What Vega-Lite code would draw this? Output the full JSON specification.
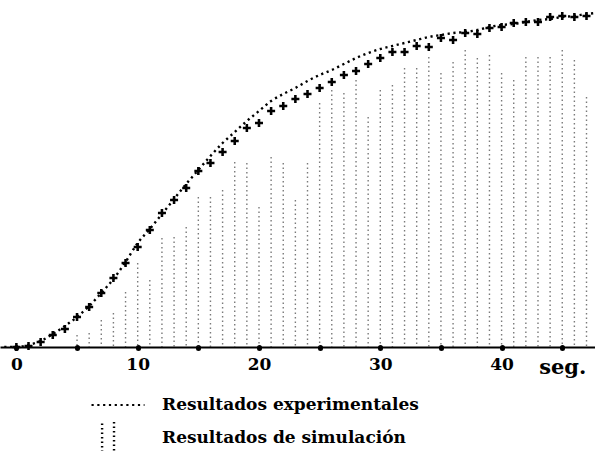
{
  "$schema": "https://vega.github.io/schema/vega-lite/v6.json",
  "width": 595,
  "height": 347,
  "autosize": {"type": "none"},
  "padding": {"left": 0, "top": 0, "right": 0, "bottom": 104},
  "background": "white",
  "config": {"view": {"stroke": null}, "font": "DejaVu Serif"},
  "layer": [
    {
      "data": {"values": [
        {"t": 5, "top": 12, "serie": "Resultados de simulación"},
        {"t": 6, "top": 14, "serie": "Resultados de simulación"},
        {"t": 7, "top": 27, "serie": "Resultados de simulación"},
        {"t": 8, "top": 34, "serie": "Resultados de simulación"},
        {"t": 9, "top": 55, "serie": "Resultados de simulación"},
        {"t": 10, "top": 84, "serie": "Resultados de simulación"},
        {"t": 11, "top": 67, "serie": "Resultados de simulación"},
        {"t": 12, "top": 109, "serie": "Resultados de simulación"},
        {"t": 13, "top": 110, "serie": "Resultados de simulación"},
        {"t": 14, "top": 120, "serie": "Resultados de simulación"},
        {"t": 15, "top": 150, "serie": "Resultados de simulación"},
        {"t": 16, "top": 150, "serie": "Resultados de simulación"},
        {"t": 17, "top": 157, "serie": "Resultados de simulación"},
        {"t": 18, "top": 185, "serie": "Resultados de simulación"},
        {"t": 19, "top": 184, "serie": "Resultados de simulación"},
        {"t": 20, "top": 140, "serie": "Resultados de simulación"},
        {"t": 21, "top": 190, "serie": "Resultados de simulación"},
        {"t": 22, "top": 184, "serie": "Resultados de simulación"},
        {"t": 23, "top": 147, "serie": "Resultados de simulación"},
        {"t": 24, "top": 184, "serie": "Resultados de simulación"},
        {"t": 25, "top": 244, "serie": "Resultados de simulación"},
        {"t": 26, "top": 257, "serie": "Resultados de simulación"},
        {"t": 27, "top": 254, "serie": "Resultados de simulación"},
        {"t": 28, "top": 267, "serie": "Resultados de simulación"},
        {"t": 29, "top": 230, "serie": "Resultados de simulación"},
        {"t": 30, "top": 257, "serie": "Resultados de simulación"},
        {"t": 31, "top": 262, "serie": "Resultados de simulación"},
        {"t": 32, "top": 279, "serie": "Resultados de simulación"},
        {"t": 33, "top": 279, "serie": "Resultados de simulación"},
        {"t": 34, "top": 290, "serie": "Resultados de simulación"},
        {"t": 35, "top": 274, "serie": "Resultados de simulación"},
        {"t": 36, "top": 285, "serie": "Resultados de simulación"},
        {"t": 37, "top": 297, "serie": "Resultados de simulación"},
        {"t": 38, "top": 289, "serie": "Resultados de simulación"},
        {"t": 39, "top": 292, "serie": "Resultados de simulación"},
        {"t": 40, "top": 274, "serie": "Resultados de simulación"},
        {"t": 41, "top": 267, "serie": "Resultados de simulación"},
        {"t": 42, "top": 290, "serie": "Resultados de simulación"},
        {"t": 43, "top": 290, "serie": "Resultados de simulación"},
        {"t": 44, "top": 290, "serie": "Resultados de simulación"},
        {"t": 45, "top": 297, "serie": "Resultados de simulación"},
        {"t": 46, "top": 287, "serie": "Resultados de simulación"},
        {"t": 47, "top": 250, "serie": "Resultados de simulación"}
      ]},
      "mark": {"type": "rule", "color": "#222222", "opacity": 0.6, "strokeWidth": 1.4},
      "encoding": {
        "x": {
          "field": "t", "type": "quantitative",
          "scale": {"domain": [-1.35, 47.7], "nice": false, "zero": false},
          "axis": {
            "title": null,
            "values": [0, 5, 10, 15, 20, 25, 30, 35, 40, 45],
            "labelExpr": "datum.value == 45 ? 'seg.' : (datum.value % 10 == 0 ? datum.label : '')",
            "grid": false,
            "domainColor": "black",
            "domainWidth": 2,
            "tickColor": "black",
            "tickWidth": 5,
            "tickSize": 1,
            "tickCap": "round",
            "labelFont": "DejaVu Serif",
            "labelFontWeight": "bold",
            "labelFontSize": {"condition": {"test": "datum.value == 45", "value": 21}, "value": 17},
            "labelColor": "black",
            "labelPadding": 8,
            "labelFlush": false,
            "labelOverlap": false
          }
        },
        "y": {"field": "top", "type": "quantitative", "scale": {"domain": [0, 347], "nice": false, "zero": true}, "axis": null},
        "y2": {"datum": 0},
        "strokeDash": {
          "field": "serie", "type": "nominal",
          "scale": {"range": [[1.5, 3]]},
          "legend": {
            "title": null,
            "orient": "none",
            "legendX": 90,
            "legendY": 410,
            "padding": 0,
            "symbolType": "M-0.6,-0.55V0.7M-0.15,-0.6V0.7",
            "symbolSize": 2809,
            "symbolStrokeWidth": 2.4,
            "symbolStrokeColor": "black",
            "symbolOpacity": 1,
            "labelFont": "DejaVu Serif",
            "labelFontWeight": "bold",
            "labelFontSize": 17,
            "labelColor": "black",
            "labelLimit": 400,
            "labelOffset": 16
          }
        }
      }
    },
    {
      "data": {"values": [
        {"t": -1, "v": 0, "serie": "Resultados experimentales"},
        {"t": 0, "v": 0, "serie": "Resultados experimentales"},
        {"t": 1, "v": 2, "serie": "Resultados experimentales"},
        {"t": 2, "v": 6, "serie": "Resultados experimentales"},
        {"t": 3, "v": 13, "serie": "Resultados experimentales"},
        {"t": 4, "v": 21, "serie": "Resultados experimentales"},
        {"t": 5, "v": 30, "serie": "Resultados experimentales"},
        {"t": 6, "v": 41, "serie": "Resultados experimentales"},
        {"t": 7, "v": 54, "serie": "Resultados experimentales"},
        {"t": 8, "v": 68, "serie": "Resultados experimentales"},
        {"t": 9, "v": 85, "serie": "Resultados experimentales"},
        {"t": 10, "v": 104, "serie": "Resultados experimentales"},
        {"t": 11, "v": 118, "serie": "Resultados experimentales"},
        {"t": 12, "v": 133, "serie": "Resultados experimentales"},
        {"t": 13, "v": 148, "serie": "Resultados experimentales"},
        {"t": 14, "v": 163, "serie": "Resultados experimentales"},
        {"t": 15, "v": 177, "serie": "Resultados experimentales"},
        {"t": 16, "v": 191, "serie": "Resultados experimentales"},
        {"t": 17, "v": 204, "serie": "Resultados experimentales"},
        {"t": 18, "v": 215, "serie": "Resultados experimentales"},
        {"t": 19, "v": 226, "serie": "Resultados experimentales"},
        {"t": 20, "v": 236, "serie": "Resultados experimentales"},
        {"t": 21, "v": 246, "serie": "Resultados experimentales"},
        {"t": 22, "v": 253, "serie": "Resultados experimentales"},
        {"t": 23, "v": 259, "serie": "Resultados experimentales"},
        {"t": 24, "v": 266, "serie": "Resultados experimentales"},
        {"t": 25, "v": 272, "serie": "Resultados experimentales"},
        {"t": 26, "v": 277, "serie": "Resultados experimentales"},
        {"t": 27, "v": 283, "serie": "Resultados experimentales"},
        {"t": 28, "v": 289, "serie": "Resultados experimentales"},
        {"t": 29, "v": 294, "serie": "Resultados experimentales"},
        {"t": 30, "v": 298, "serie": "Resultados experimentales"},
        {"t": 31, "v": 301, "serie": "Resultados experimentales"},
        {"t": 32, "v": 304, "serie": "Resultados experimentales"},
        {"t": 33, "v": 307, "serie": "Resultados experimentales"},
        {"t": 34, "v": 310, "serie": "Resultados experimentales"},
        {"t": 35, "v": 312, "serie": "Resultados experimentales"},
        {"t": 36, "v": 314, "serie": "Resultados experimentales"},
        {"t": 37, "v": 315, "serie": "Resultados experimentales"},
        {"t": 38, "v": 317, "serie": "Resultados experimentales"},
        {"t": 39, "v": 320, "serie": "Resultados experimentales"},
        {"t": 40, "v": 322, "serie": "Resultados experimentales"},
        {"t": 41, "v": 323, "serie": "Resultados experimentales"},
        {"t": 42, "v": 325, "serie": "Resultados experimentales"},
        {"t": 43, "v": 327, "serie": "Resultados experimentales"},
        {"t": 44, "v": 328, "serie": "Resultados experimentales"},
        {"t": 45, "v": 330, "serie": "Resultados experimentales"},
        {"t": 46, "v": 331, "serie": "Resultados experimentales"},
        {"t": 47, "v": 333, "serie": "Resultados experimentales"},
        {"t": 47.7, "v": 334, "serie": "Resultados experimentales"}
      ]},
      "mark": {"type": "line", "color": "black", "strokeWidth": 2.4, "interpolate": "monotone", "clip": true},
      "encoding": {
        "x": {"field": "t", "type": "quantitative"},
        "y": {"field": "v", "type": "quantitative"},
        "strokeDash": {
          "field": "serie", "type": "nominal",
          "scale": {"range": [[2.2, 3.6]]},
          "legend": {
            "title": null,
            "orient": "none",
            "legendX": 90,
            "legendY": 377,
            "padding": 0,
            "symbolType": "stroke",
            "symbolSize": 2809,
            "symbolStrokeWidth": 2.2,
            "symbolStrokeColor": "black",
            "labelFont": "DejaVu Serif",
            "labelFontWeight": "bold",
            "labelFontSize": 17,
            "labelColor": "black",
            "labelLimit": 400,
            "labelOffset": 16
          }
        }
      }
    },
    {
      "data": {"values": [
        {"t": 0, "v": 0}, {"t": 1, "v": 1}, {"t": 2, "v": 5}, {"t": 3, "v": 12},
        {"t": 4, "v": 18}, {"t": 5, "v": 30}, {"t": 6, "v": 40}, {"t": 7, "v": 54},
        {"t": 8, "v": 69}, {"t": 9, "v": 84}, {"t": 10, "v": 100}, {"t": 11, "v": 117},
        {"t": 12, "v": 134}, {"t": 13, "v": 147}, {"t": 14, "v": 159}, {"t": 15, "v": 176},
        {"t": 16, "v": 184}, {"t": 17, "v": 195}, {"t": 18, "v": 206}, {"t": 19, "v": 219},
        {"t": 20, "v": 224}, {"t": 21, "v": 236}, {"t": 22, "v": 241}, {"t": 23, "v": 248},
        {"t": 24, "v": 253}, {"t": 25, "v": 259}, {"t": 26, "v": 265}, {"t": 27, "v": 272},
        {"t": 28, "v": 276}, {"t": 29, "v": 283}, {"t": 30, "v": 289}, {"t": 31, "v": 295},
        {"t": 32, "v": 295}, {"t": 33, "v": 301}, {"t": 34, "v": 300}, {"t": 35, "v": 309},
        {"t": 36, "v": 307}, {"t": 37, "v": 314}, {"t": 38, "v": 313}, {"t": 39, "v": 319},
        {"t": 40, "v": 320}, {"t": 41, "v": 324}, {"t": 42, "v": 325}, {"t": 43, "v": 325},
        {"t": 44, "v": 330}, {"t": 45, "v": 331}, {"t": 46, "v": 330}, {"t": 47, "v": 331}
      ]},
      "mark": {
        "type": "point",
        "shape": "M-1,-0.32H-0.32V-1H0.32V-0.32H1V0.32H0.32V1H-0.32V0.32H-1Z",
        "size": 64,
        "filled": true,
        "color": "black",
        "opacity": 1
      },
      "encoding": {
        "x": {"field": "t", "type": "quantitative"},
        "y": {"field": "v", "type": "quantitative"}
      }
    }
  ],
  "resolve": {"scale": {"strokeDash": "independent"}, "legend": {"strokeDash": "independent"}}
}
